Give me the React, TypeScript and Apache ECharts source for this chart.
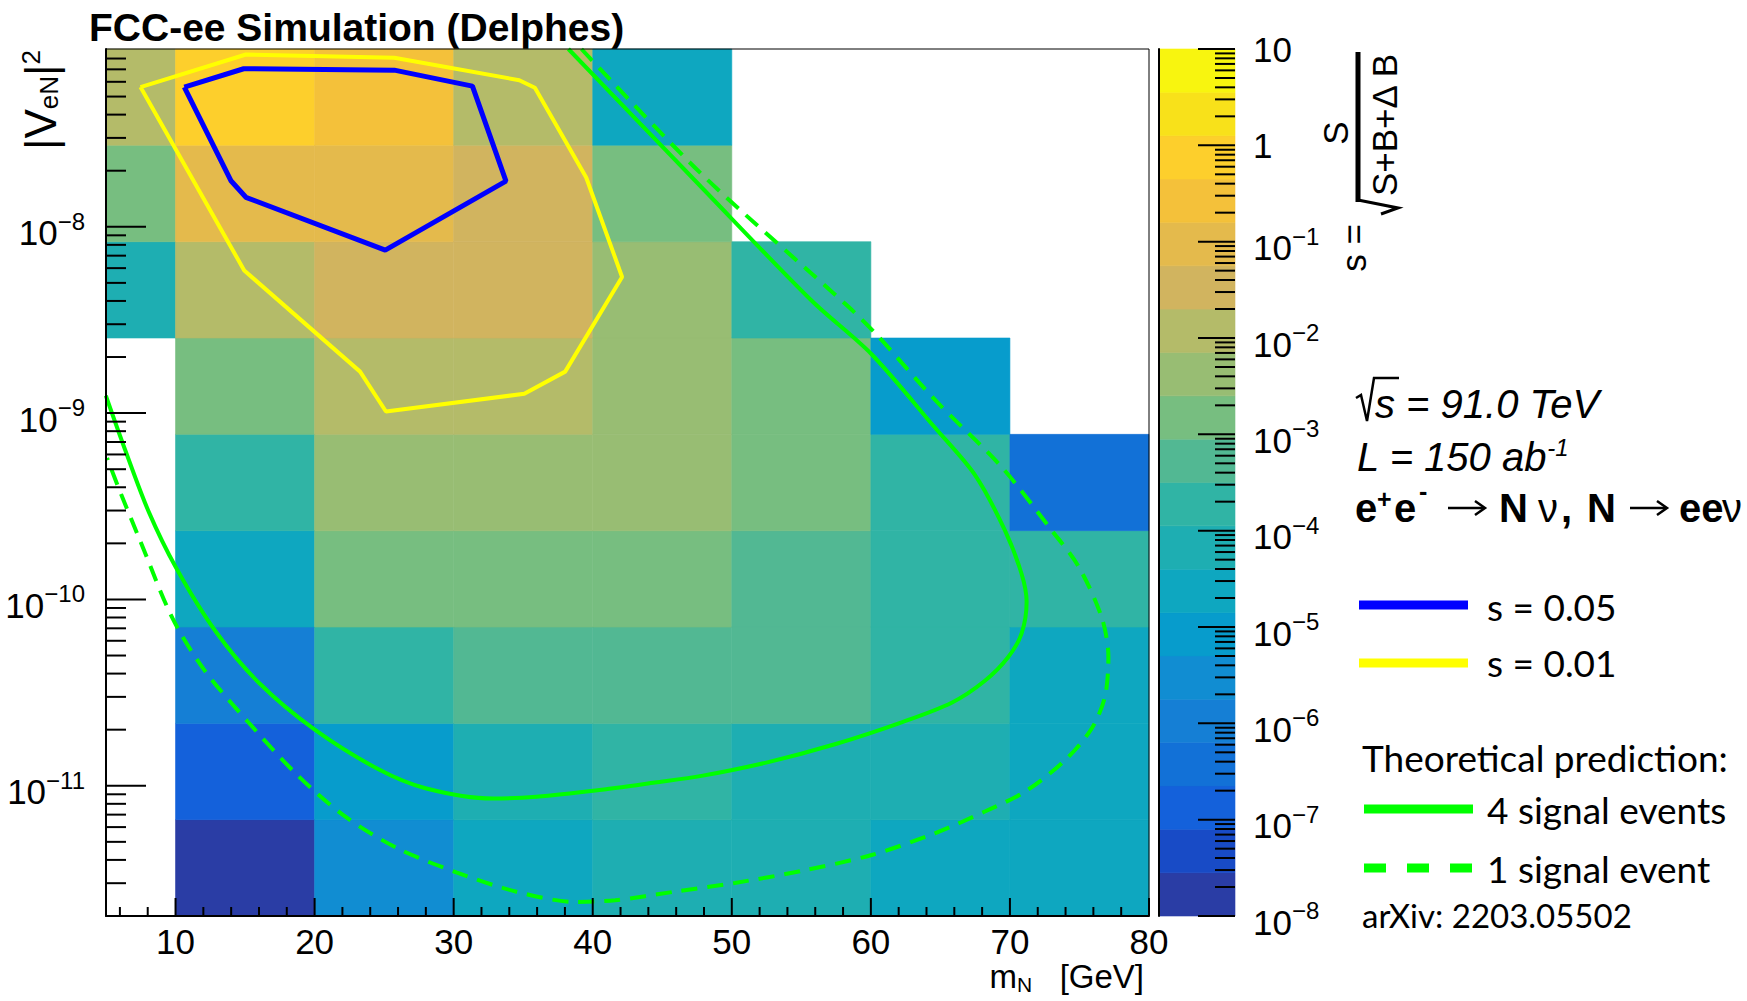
import React, { useEffect, useRef } from 'react';
import * as echarts from 'echarts';

const W = 1747;
const H = 1001;
const ROOT_FONT = '"Liberation Sans", Arial, Helvetica, sans-serif';
const LEG_FONT = 'Lato, "Open Sans", sans-serif';

// ---------------- data ----------------
// heavy neutral lepton mass bins [GeV]
const massEdges = [5, 10, 20, 30, 40, 50, 60, 70, 80];
// |V_eN|^2 bins (log binned)
const mixingEdges = [2.0e-12, 6.58e-12, 2.16e-11, 7.11e-11, 2.34e-10, 7.69e-10, 2.53e-9, 8.32e-9, 2.74e-8, 9.0e-8];

// significance s = S/sqrt(S+B+dB) per cell; rows from bottom to top, columns by mass bin
const sRow0 = [null, 2.0e-8, 3.1e-6, 2.6e-5, 6.8e-5, 7.2e-5, 2.4e-5, 2.3e-5];
const sRow1 = [null, 1.5e-7, 8.8e-6, 6.9e-5, 1.9e-4, 7.1e-5, 6.6e-5, 2.5e-5];
const sRow2 = [null, 1.2e-6, 2.0e-4, 5.4e-4, 5.6e-4, 5.2e-4, 1.9e-4, 2.4e-5];
const sRow3 = [null, 2.5e-5, 1.5e-3, 1.6e-3, 1.4e-3, 5.5e-4, 2.0e-4, 1.9e-4];
const sRow4 = [null, 2.0e-4, 4.4e-3, 4.6e-3, 4.2e-3, 1.5e-3, 2.1e-4, 3.9e-7];
const sRow5 = [null, 1.5e-3, 1.2e-2, 1.25e-2, 4.3e-3, 1.45e-3, 8.6e-6, null];
const sRow6 = [6.9e-5, 1.15e-2, 3.4e-2, 3.6e-2, 4.4e-3, 1.9e-4, null, null];
const sRow7 = [1.5e-3, 9.1e-2, 9.4e-2, 3.3e-2, 1.6e-3, null, null, null];
const sRow8 = [1.2e-2, 0.72, 0.28, 1.3e-2, 2.5e-5, null, null, null];
const sRows = [sRow0, sRow1, sRow2, sRow3, sRow4, sRow5, sRow6, sRow7, sRow8];

// contour s = 0.05 (blue)
const blueX = [10.63, 14.9, 25.73, 31.35, 33.76, 25.08, 15.06, 14.0, 10.63];
const blueY = [5.62e-8, 7.05e-8, 6.93e-8, 5.69e-8, 1.76e-8, 7.5e-9, 1.44e-8, 1.76e-8, 5.62e-8];
// contour s = 0.01 (yellow)
const yellowX = [7.48, 15.06, 25.73, 34.72, 35.84, 39.53, 42.11, 38.02, 35.08, 25.13, 23.27, 14.94, 7.48];
const yellowY = [5.62e-8, 8.41e-8, 8.07e-8, 6.12e-8, 5.57e-8, 1.84e-8, 5.38e-9, 1.67e-9, 1.27e-9, 1.02e-9, 1.67e-9, 5.83e-9, 5.62e-8];

// theory: 4 signal events (solid)
const sig4X = [38.25, 47.82, 55.73, 60.05, 64.6, 67.48, 69.64, 70.84, 71.2, 70.84, 69.88, 68.2, 65.81, 62.21, 57.41, 52.62, 47.82, 44.47, 40.2, 35.94, 32.81, 27.97, 24.56, 20.01, 16.03, 12.9, 10.06, 8.06, 6.36, 4.99];
const sig4Y = [9.0e-8, 1.63e-8, 4.02e-9, 2.07e-9, 8.37e-10, 4.66e-10, 2.35e-10, 1.37e-10, 9.72e-11, 6.58e-11, 4.91e-11, 3.66e-11, 2.79e-11, 2.19e-11, 1.67e-11, 1.34e-11, 1.13e-11, 1.04e-11, 9.42e-12, 8.73e-12, 8.54e-12, 9.7e-12, 1.23e-11, 2.0e-11, 3.55e-11, 6.71e-11, 1.47e-10, 2.97e-10, 6.4e-10, 1.24e-9];
// theory: 1 signal event (dashed)
const sig1X = [39.19, 47.82, 58.37, 60.53, 64.6, 69.4, 73.0, 74.92, 76.6, 77.08, 76.83, 75.88, 73.96, 71.08, 68.2, 64.6, 60.05, 55.01, 50.22, 45.88, 41.62, 38.78, 34.51, 30.24, 25.98, 22.29, 18.87, 15.17, 12.05, 9.77, 7.5, 6.08, 5.08];
const sig1Y = [9.0e-8, 1.92e-8, 3.73e-9, 2.58e-9, 1.18e-9, 5.14e-10, 2.35e-10, 1.51e-10, 8.0e-11, 4.91e-11, 3.0e-11, 2.03e-11, 1.37e-11, 9.29e-12, 7.28e-12, 5.56e-12, 4.25e-12, 3.49e-12, 3.01e-12, 2.7e-12, 2.43e-12, 2.38e-12, 2.7e-12, 3.42e-12, 4.61e-12, 6.76e-12, 1.12e-11, 2.22e-11, 4.2e-11, 7.96e-11, 2.03e-10, 3.68e-10, 5.74e-10];

// colour scale: log10(s) contour levels and palette (bottom -> top)
const colorLevels = [-8, -7.55, -7.1, -6.65, -6.2, -5.75, -5.3, -4.85, -4.4, -3.95, -3.5, -3.05, -2.6, -2.15, -1.7, -1.25, -0.8, -0.35, 0.1, 0.55, 1];
const palette = ['#2A3DA5', '#184BC6', '#1461DB', '#1271D7', '#157FD5', '#118DD2', '#079CCC', '#0EA7C0', '#1EAEB2', '#30B4A5', '#52B893', '#77BE80', '#98BD73', '#B4BB69', '#D1B45F', '#E4BA4C', '#F4C13A', '#FDCF2C', '#F8E11A', '#F8F50F'];

const massTickLabels = ['10', '20', '30', '40', '50', '60', '70', '80'];

// ---------------- derived tables ----------------
const zip = (xs: number[], ys: number[]) => xs.map((x, i) => [x, ys[i]]);

const cellData: number[][] = [];
sRows.forEach((row, r) => {
  row.forEach((s, c) => {
    if (s === null) return;
    cellData.push([massEdges[c], massEdges[c + 1], mixingEdges[r], mixingEdges[r + 1], Math.log10(s as number)]);
  });
});

const bandData: number[][] = [];
for (let i = 0; i < palette.length; i++) {
  bandData.push([0, 1, Math.pow(10, colorLevels[i]), Math.pow(10, colorLevels[i + 1]), (colorLevels[i] + colorLevels[i + 1]) / 2]);
}

const pieces = palette.map((color, i) =>
  i < palette.length - 1
    ? { gte: colorLevels[i], lt: colorLevels[i + 1], color }
    : { gte: colorLevels[i], lte: colorLevels[i + 1], color }
);

// axis decorations (ROOT-style ticks)
const yTicks: number[][] = [];
for (let e = -12; e <= -8; e++) {
  for (let m = 1; m <= 9; m++) {
    const v = m * Math.pow(10, e);
    if (v > 2.01e-12 && v < 8.99e-8) yTicks.push([5, v, m === 1 ? 1 : 0]);
  }
}
const zTicks: number[][] = [];
for (let e = -8; e <= 0; e++) {
  for (let m = 1; m <= 9; m++) zTicks.push([1, m * Math.pow(10, e), m === 1 ? 1 : 0]);
}
zTicks.push([1, 10, 1]);
const xTicks: number[][] = [];
for (let v = 6; v <= 80; v += 2) xTicks.push([v, 2.0e-12, v % 10 === 0 ? 1 : 0]);

const isDecade = (v: number) => {
  const l = Math.log10(v);
  return Math.abs(l - Math.round(l)) < 1e-6;
};
const powLabel = (v: number) => {
  if (!isDecade(v)) return '';
  const e = Math.round(Math.log10(v));
  if (e === 1) return '{c|10}';
  if (e === 0) return '{c|1}';
  return `{a|10}{b|\u2212${-e}}`;
};
const LBL = 35;
const powRich = {
  a: { fontFamily: ROOT_FONT, fontSize: LBL, lineHeight: LBL, padding: [12, 0, 0, 0], color: '#000' },
  b: { fontFamily: ROOT_FONT, fontSize: 24, lineHeight: 24, verticalAlign: 'top', color: '#000' },
  c: { fontFamily: ROOT_FONT, fontSize: LBL, lineHeight: LBL, color: '#000' },
};

const rectItem = (params: any, api: any) => {
  const a = api.coord([api.value(0), api.value(3)]);
  const b = api.coord([api.value(1), api.value(2)]);
  const c = api.visual('color');
  return {
    type: 'rect',
    shape: { x: a[0], y: a[1], width: b[0] - a[0], height: b[1] - a[1] },
    style: { fill: c, stroke: c, lineWidth: 0.6 },
  };
};

const tickSeries = (xi: number, yi: number, data: number[][], dx: number, dy: number, major: number, minor: number) => ({
  type: 'custom',
  xAxisIndex: xi,
  yAxisIndex: yi,
  silent: true,
  z: 12,
  data,
  renderItem: (params: any, api: any) => {
    const p = api.coord([api.value(0), api.value(1)]);
    const len = api.value(2) ? major : minor;
    return {
      type: 'line',
      shape: { x1: p[0], y1: p[1], x2: p[0] + dx * len, y2: p[1] + dy * len },
      style: { stroke: '#000', lineWidth: 2 },
    };
  },
});

const txt = (x: number, y: number, text: string, font: string, size: number, extra: any = {}) => ({
  type: 'text',
  x,
  y,
  silent: true,
  style: { text, fontFamily: font, fontSize: size, fill: '#000', align: 'left', verticalAlign: 'middle', ...extra },
});

const arrow = (x1: number, x2: number, y: number) => [
  { type: 'line', silent: true, shape: { x1, y1: y, x2: x2 - 1, y2: y }, style: { stroke: '#000', lineWidth: 2.5 } },
  { type: 'polyline', silent: true, shape: { points: [[x2 - 10, y - 7], [x2, y], [x2 - 10, y + 7]] }, style: { stroke: '#000', lineWidth: 2.5, fill: null } },
];

const R = Math.PI / 2;
const BY = 508; // centre line of the reaction text
const graphics: any[] = [
  txt(89, 27, 'FCC-ee Simulation (Delphes)', ROOT_FONT, 39, { fontWeight: 'bold' }),
  {
    type: 'text', x: 40, y: 50, rotation: R, silent: true,
    style: {
      text: '{m||V}{s|eN}{m||}{p|2}', align: 'right', verticalAlign: 'middle',
      rich: {
        m: { fontFamily: ROOT_FONT, fontSize: 44, lineHeight: 44, padding: [3, 0, 3, 0], fill: '#000' },
        s: { fontFamily: ROOT_FONT, fontSize: 26, lineHeight: 26, verticalAlign: 'bottom', fill: '#000' },
        p: { fontFamily: ROOT_FONT, fontSize: 26, lineHeight: 26, verticalAlign: 'top', fill: '#000' },
      },
    },
  },
  {
    type: 'text', x: 1144, y: 965, silent: true,
    style: {
      text: '{m|m}{s|N}{m|   [GeV]}', align: 'right', verticalAlign: 'top',
      rich: {
        m: { fontFamily: ROOT_FONT, fontSize: 33, lineHeight: 30, padding: [0, 0, 8, 0], fill: '#000' },
        s: { fontFamily: ROOT_FONT, fontSize: 21, lineHeight: 21, verticalAlign: 'bottom', fill: '#000' },
      },
    },
  },
  // colour-bar title: s = S / sqrt(S+B+dB)
  { ...txt(1353, 248, 's =', ROOT_FONT, 35, { align: 'center' }), rotation: R },
  { ...txt(1335, 133, 'S', ROOT_FONT, 35, { align: 'center' }), rotation: R },
  { ...txt(1384, 125, 'S+B+\u0394 B', ROOT_FONT, 35, { align: 'center' }), rotation: R },
  { type: 'line', silent: true, shape: { x1: 1358, y1: 52, x2: 1358, y2: 202 }, style: { stroke: '#000', lineWidth: 5 } },
  { type: 'polyline', silent: true, shape: { points: [[1381, 214], [1398, 208], [1358, 200]] }, style: { stroke: '#000', lineWidth: 3, fill: null } },
  // sqrt(s) line
  { type: 'polyline', silent: true, shape: { points: [[1356, 398], [1361, 395], [1367, 421], [1374, 378], [1399, 378]] }, style: { stroke: '#000', lineWidth: 2.5, fill: null } },
  txt(1375, 404, 's = 91.0 TeV', ROOT_FONT, 40, { fontStyle: 'italic' }),
  {
    type: 'text', x: 1357, y: 435, silent: true,
    style: {
      text: '{a|L = 150 ab}{b|-1}', align: 'left', verticalAlign: 'top',
      rich: {
        a: { fontFamily: ROOT_FONT, fontSize: 40, fontStyle: 'italic', lineHeight: 40, padding: [3, 0, 0, 0], fill: '#000' },
        b: { fontFamily: ROOT_FONT, fontSize: 24, fontStyle: 'italic', lineHeight: 24, verticalAlign: 'top', fill: '#000' },
      },
    },
  },
  // e+e- -> N nu, N -> e e nu
  txt(1355, BY, 'e', ROOT_FONT, 40, { fontWeight: 'bold' }),
  txt(1377, 499, '+', ROOT_FONT, 25, { fontWeight: 'bold' }),
  txt(1394, BY, 'e', ROOT_FONT, 40, { fontWeight: 'bold' }),
  txt(1419, 491, '-', ROOT_FONT, 25, { fontWeight: 'bold' }),
  ...arrow(1448, 1485, BY),
  txt(1499, BY, 'N', ROOT_FONT, 40, { fontWeight: 'bold' }),
  txt(1538, BY, '\u03bd', ROOT_FONT, 40),
  txt(1561, BY, ',', ROOT_FONT, 40, { fontWeight: 'bold' }),
  txt(1587, BY, 'N', ROOT_FONT, 40, { fontWeight: 'bold' }),
  ...arrow(1630, 1667, BY),
  txt(1679, BY, 'ee', ROOT_FONT, 40, { fontWeight: 'bold' }),
  txt(1722, BY, '\u03bd', ROOT_FONT, 40),
  // legend
  { type: 'line', silent: true, shape: { x1: 1359, y1: 605, x2: 1468, y2: 605 }, style: { stroke: '#0000ff', lineWidth: 9 } },
  txt(1487, 606, 's = 0.05', LEG_FONT, 37),
  { type: 'line', silent: true, shape: { x1: 1359, y1: 663, x2: 1468, y2: 663 }, style: { stroke: '#ffff00', lineWidth: 9 } },
  txt(1487, 662, 's = 0.01', LEG_FONT, 37),
  txt(1362, 757, 'Theoretical prediction:', LEG_FONT, 37),
  { type: 'line', silent: true, shape: { x1: 1364, y1: 809, x2: 1473, y2: 809 }, style: { stroke: '#00ff00', lineWidth: 9 } },
  txt(1487, 809, '4 signal events', LEG_FONT, 37),
  { type: 'line', silent: true, shape: { x1: 1364, y1: 868, x2: 1473, y2: 868 }, style: { stroke: '#00ff00', lineWidth: 9, lineDash: [22, 21] } },
  txt(1487, 868, '1 signal event', LEG_FONT, 37),
  txt(1362, 915, 'arXiv: 2203.05502', LEG_FONT, 33),
];

const option: any = {
  animation: false,
  backgroundColor: '#ffffff',
  grid: [
    { left: 106, top: 49, width: 1043, height: 867, show: true, z: 10, borderColor: '#000', borderWidth: 1, backgroundColor: 'transparent' },
    { left: 1159, top: 49, width: 76, height: 867, show: false },
  ],
  xAxis: [
    {
      gridIndex: 0, type: 'value', min: 5, max: 80, splitNumber: 8, minInterval: 10, maxInterval: 10, z: 10,
      axisLine: { show: true, onZero: false, lineStyle: { color: '#000', width: 2 } },
      axisTick: { show: false }, splitLine: { show: false },
      axisLabel: {
        fontFamily: ROOT_FONT, fontSize: LBL, lineHeight: 30, color: '#000', margin: 10,
        formatter: (v: number) => (massTickLabels.indexOf(String(v)) >= 0 ? String(v) : ''),
      },
    },
    { gridIndex: 1, type: 'value', min: 0, max: 1, show: false },
  ],
  yAxis: [
    {
      gridIndex: 0, type: 'log', logBase: 10, min: 2.0e-12, max: 9.0e-8, splitNumber: 5, z: 10,
      axisLine: { show: true, onZero: false, lineStyle: { color: '#000', width: 2 } },
      axisTick: { show: false }, splitLine: { show: false },
      axisLabel: { formatter: powLabel, rich: powRich, margin: 21 },
    },
    {
      gridIndex: 1, type: 'log', logBase: 10, min: 1e-8, max: 10, splitNumber: 9, position: 'right', z: 10,
      axisLine: { show: true, lineStyle: { color: '#000', width: 2 } },
      axisTick: { show: false }, splitLine: { show: false },
      axisLabel: { formatter: powLabel, rich: powRich, margin: 18 },
    },
  ],
  visualMap: {
    type: 'piecewise', show: false, dimension: 4, seriesIndex: [0, 1], pieces,
  },
  series: [
    {
      type: 'custom', name: 'significance', xAxisIndex: 0, yAxisIndex: 0, z: 1, silent: true,
      encode: { x: [0, 1], y: [2, 3] }, data: cellData, renderItem: rectItem,
    },
    {
      type: 'custom', name: 'colorbar', xAxisIndex: 1, yAxisIndex: 1, z: 1, silent: true,
      encode: { x: [0, 1], y: [2, 3] }, data: bandData, renderItem: rectItem,
    },
    {
      type: 'line', name: 's = 0.01', data: zip(yellowX, yellowY), symbol: 'none', z: 4,
      lineStyle: { color: '#ffff00', width: 4 },
    },
    {
      type: 'line', name: 's = 0.05', data: zip(blueX, blueY), symbol: 'none', z: 5,
      lineStyle: { color: '#0000ff', width: 5 },
    },
    {
      type: 'line', name: '4 signal events', data: zip(sig4X, sig4Y), symbol: 'none', z: 5, smooth: 0.3,
      lineStyle: { color: '#00ff00', width: 4 },
    },
    {
      type: 'line', name: '1 signal event', data: zip(sig1X, sig1Y), symbol: 'none', z: 5, smooth: 0.3,
      lineStyle: { color: '#00ff00', width: 4, type: [16, 10] },
    },
    tickSeries(0, 0, yTicks, 1, 0, 40, 20),
    tickSeries(0, 0, xTicks, 0, -1, 18, 9),
    tickSeries(1, 1, zTicks, -1, 0, 37, 20),
  ],
  graphic: graphics,
};

export default function App() {
  const ref = useRef<HTMLDivElement>(null);
  useEffect(() => {
    if (!ref.current) return;
    const chart = echarts.init(ref.current, null, { renderer: 'svg' });
    chart.setOption(option);
    return () => chart.dispose();
  }, []);
  return (
    <div
      ref={ref}
      style={{ position: 'fixed', left: 0, top: 0, width: W, height: H, background: '#fff' }}
    />
  );
}
